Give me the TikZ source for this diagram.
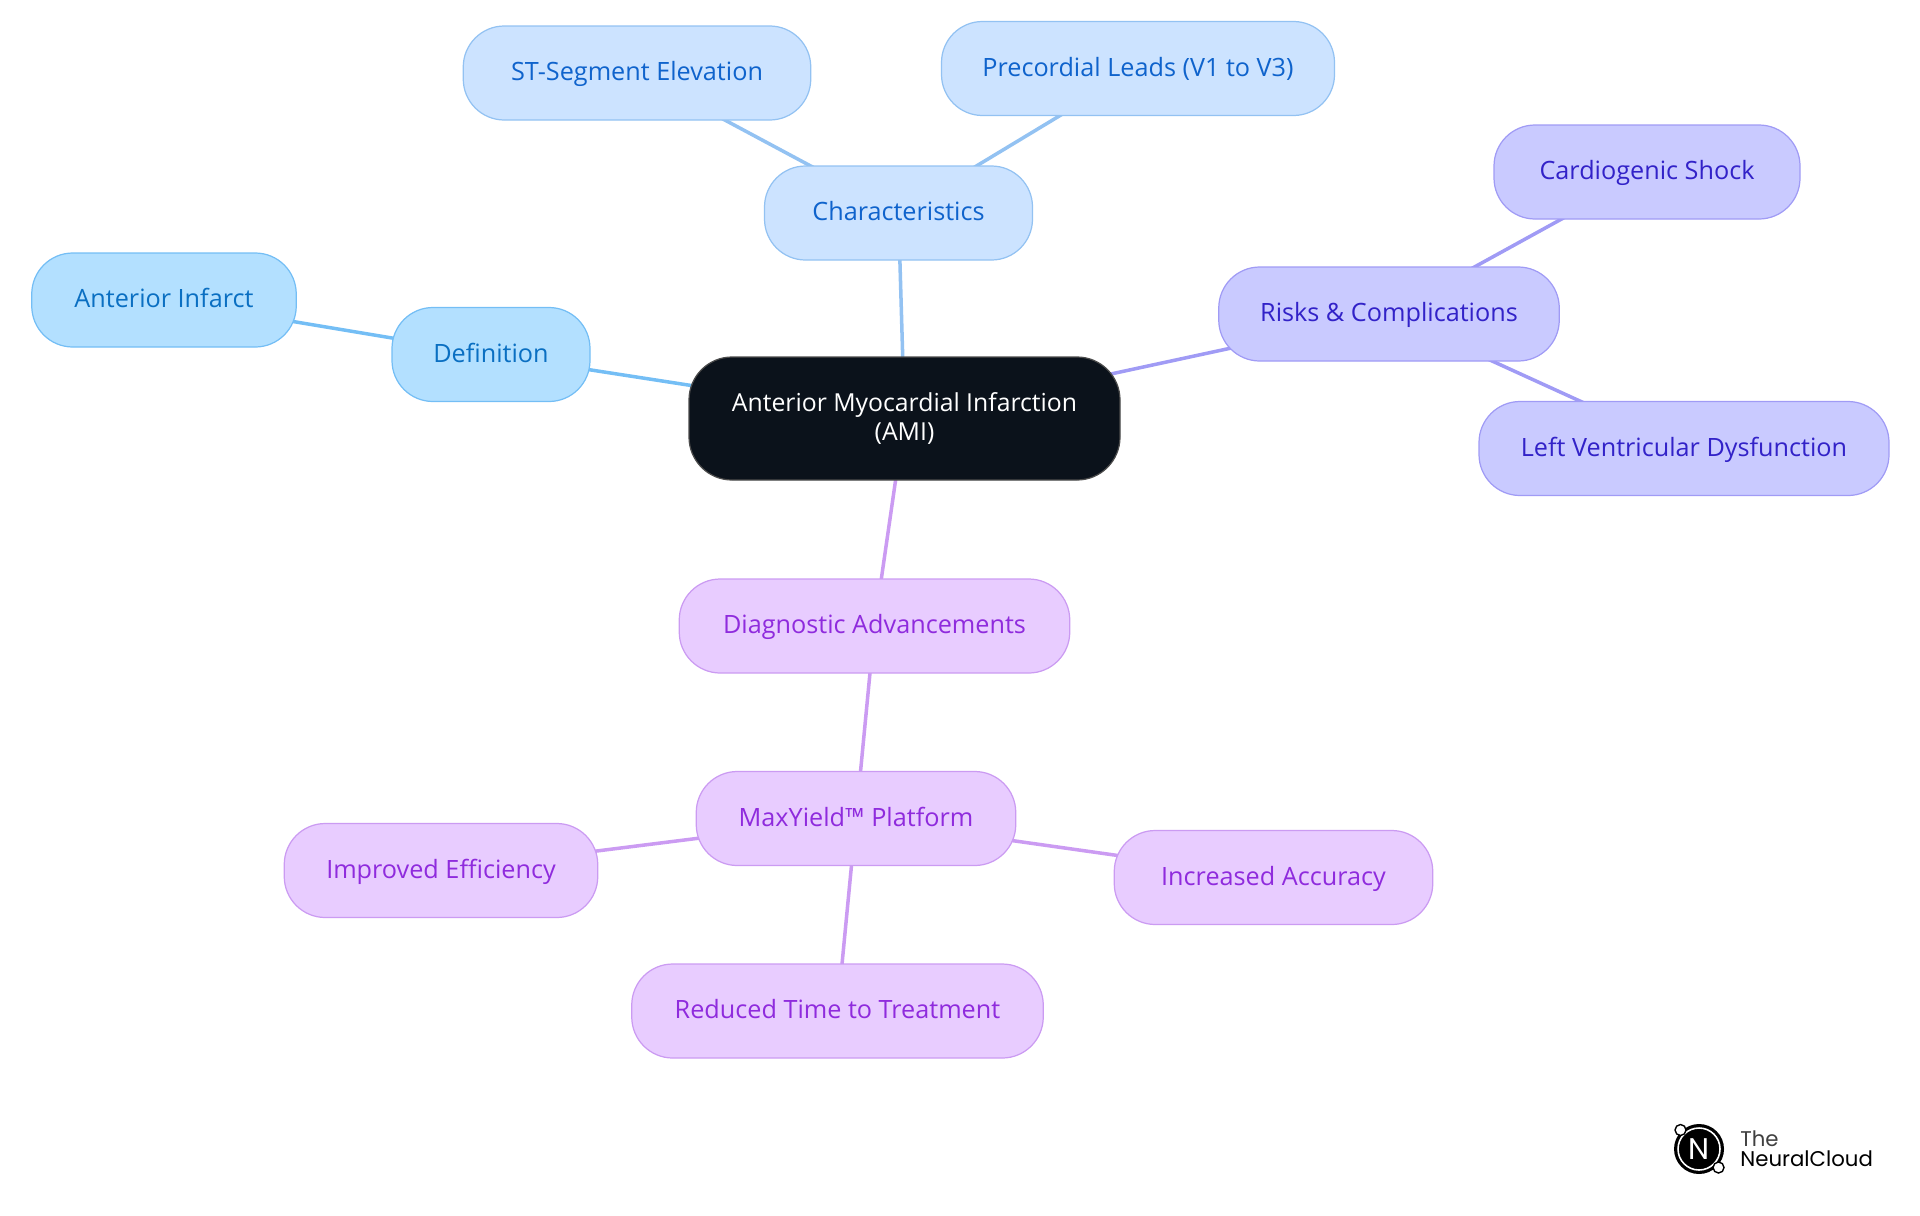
\documentclass[tikz,border=0pt]{standalone}
\usepackage{fontspec}
\setmainfont{Open Sans}
\newfontfamily\logofont{Poppins}
\usetikzlibrary{backgrounds}
\definecolor{inkdark}{HTML}{0B121B}
\definecolor{skyline}{HTML}{74BEF5}
\definecolor{skyfill}{HTML}{B3E0FF}
\definecolor{skytext}{HTML}{0A6FC2}
\definecolor{paleline}{HTML}{93C2F2}
\definecolor{palefill}{HTML}{CCE3FF}
\definecolor{paletext}{HTML}{0F63CC}
\definecolor{indigoline}{HTML}{A09BF5}
\definecolor{indigofill}{HTML}{C9CAFF}
\definecolor{indigotext}{HTML}{3222C8}
\definecolor{violetline}{HTML}{CB9BF2}
\definecolor{violetfill}{HTML}{E8CCFF}
\definecolor{violettext}{HTML}{8F2BDD}
\tikzset{
  leaf/.style={draw, line width=0.7pt, rounded corners=0.82cm, inner sep=0pt,
    minimum height=1.88cm, text height=0.41cm, text depth=0.11cm,
    font=\fontsize{14.35}{17}\selectfont, align=center},
  skyleaf/.style={leaf, draw=skyline, fill=skyfill, text=skytext},
  paleleaf/.style={leaf, draw=paleline, fill=palefill, text=paletext},
  indigoleaf/.style={leaf, draw=indigoline, fill=indigofill, text=indigotext},
  violetleaf/.style={leaf, draw=violetline, fill=violetfill, text=violettext},
  link/.style={line width=2pt},
  orbit/.style={circle, fill=white, draw=black, line width=0.8pt, minimum size=0.22cm, inner sep=0pt},
  logotext/.style={anchor=base west, inner sep=0pt, font=\logofont\fontsize{12.1}{12}\selectfont}
}
\begin{document}
\begin{tikzpicture}
  \useasboundingbox (0,0) rectangle (38.4,-24.3);

  \node[leaf, draw=black!70, fill=inkdark, text=white, rounded corners=0.86cm,
    text height=, text depth=, font=\fontsize{14.1}{17}\selectfont,
    minimum width=8.62cm, minimum height=2.46cm] (ami) at (18.09,-8.37)
    {Anterior Myocardial Infarction\\[-1pt](AMI)};

  \node[skyleaf, minimum width=3.96cm] (definition) at (9.82,-7.09) {Definition};
  \node[skyleaf, minimum width=5.29cm] (infarct) at (3.28,-6.0) {Anterior Infarct};

  \node[paleleaf, minimum width=5.36cm] (traits) at (17.97,-4.26) {Characteristics};
  \node[paleleaf, minimum width=6.95cm] (stseg) at (12.74,-1.46) {ST-Segment Elevation};
  \node[paleleaf, minimum width=7.86cm] (leads) at (22.76,-1.37) {Precordial Leads (V1 to V3)};

  \node[indigoleaf, minimum width=6.81cm] (risks) at (27.78,-6.28) {Risks \& Complications};
  \node[indigoleaf, minimum width=6.12cm] (shock) at (32.94,-3.44) {Cardiogenic Shock};
  \node[indigoleaf, minimum width=8.2cm] (lvd) at (33.68,-8.97) {Left Ventricular Dysfunction};

  \node[violetleaf, minimum width=7.81cm] (advances) at (17.49,-12.52) {Diagnostic Advancements};
  \node[violetleaf, minimum width=6.39cm] (platform) at (17.12,-16.37) {MaxYield™ Platform};
  \node[violetleaf, minimum width=6.27cm] (efficiency) at (8.82,-17.41) {Improved Efficiency};
  \node[violetleaf, minimum width=6.37cm] (accuracy) at (25.47,-17.55) {Increased Accuracy};
  \node[violetleaf, minimum width=8.23cm] (treatment) at (16.75,-20.22) {Reduced Time to Treatment};

  \begin{pgfonlayer}{background}
    \draw[link, skyline] (ami.center) -- (definition.center);
    \draw[link, skyline] (definition.center) -- (infarct.center);
    \draw[link, paleline] (ami.center) -- (traits.center);
    \draw[link, paleline] (traits.center) -- (stseg.center);
    \draw[link, paleline] (traits.center) -- (leads.center);
    \draw[link, indigoline] (ami.center) -- (risks.center);
    \draw[link, indigoline] (risks.center) -- (shock.center);
    \draw[link, indigoline] (risks.center) -- (lvd.center);
    \draw[link, violetline] (ami.center) -- (advances.center);
    \draw[link, violetline] (advances.center) -- (platform.center);
    \draw[link, violetline] (platform.center) -- (efficiency.center);
    \draw[link, violetline] (platform.center) -- (accuracy.center);
    \draw[link, violetline] (platform.center) -- (treatment.center);
  \end{pgfonlayer}

  % logo
  \node[circle, fill=black, minimum size=1cm, inner sep=0pt] (logo) at (33.98,-22.98) {};
  \node[circle, draw=white, line width=0.9pt, minimum size=0.84cm, inner sep=0pt, text=white,
    font=\logofont\fontsize{17}{17}\selectfont] (logoring) at (logo) {N};
  \node[orbit] (orbita) at (33.61,-22.6) {};
  \node[orbit] (orbitb) at (34.37,-23.35) {};
  \node[logotext, text=black!75] (logothe) at (34.8,-22.93) {The};
  \node[logotext, text=black] (logoname) at (34.8,-23.32) {NeuralCloud};
\end{tikzpicture}
\end{document}
